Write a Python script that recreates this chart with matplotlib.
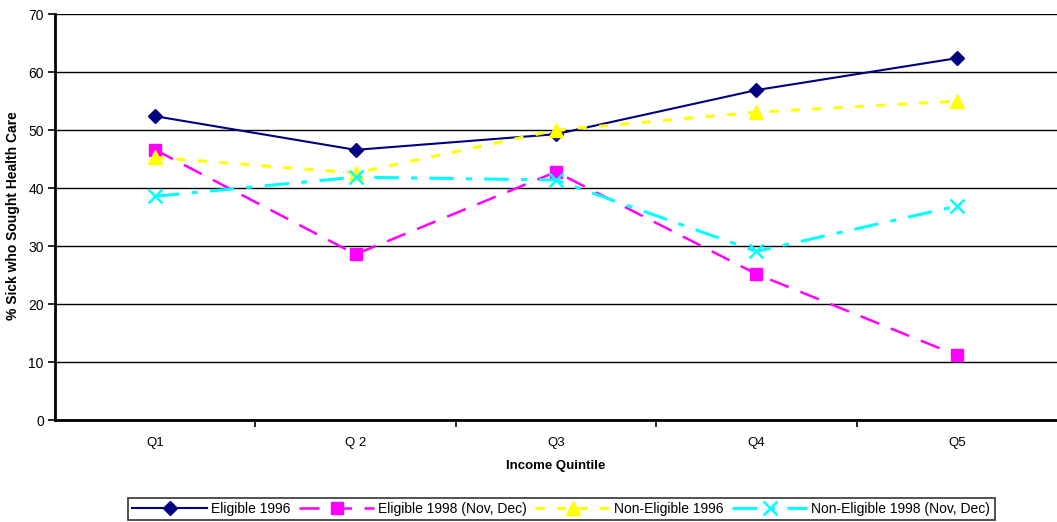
import matplotlib.pyplot as plt
import numpy as np
from matplotlib.transforms import Bbox, TransformedBbox

# 按收入五分位统计的就医比例（%）
quintiles = ["Q1", "Q 2", "Q3", "Q4", "Q5"]
eligible_1996 = [52.4, 46.6, 49.3, 56.9, 62.4]
eligible_1998 = [46.6, 28.6, 42.8, 25.2, 11.2]
non_eligible_1996 = [45.3, 42.6, 50.0, 53.1, 55.0]
non_eligible_1998 = [38.6, 41.9, 41.4, 29.1, 36.9]

y_ticks = [0, 10, 20, 30, 40, 50, 60, 70]

plt.rcParams["font.family"] = ["Liberation Sans", "DejaVu Sans"]

fig = plt.figure(figsize=(10.57, 5.22), dpi=100)
ax = fig.add_axes([0.052, 0.195, 0.948, 0.778])

x = np.arange(len(quintiles))

ax.plot(x, eligible_1996, color="#000080", lw=1.5, marker="D", ms=7,
        label="Eligible 1996", zorder=3)
ax.plot(x, eligible_1998, color="#FF00FF", lw=1.8, dashes=(8, 5), marker="s",
        ms=8, mfc="#FF00FF", mec="#FF00FF", label="Eligible 1998 (Nov, Dec)", zorder=3)
ax.plot(x, non_eligible_1996, color="#FFFF00", lw=2.2, dashes=(3, 4), marker="^",
        ms=10, label="Non-Eligible 1996", zorder=3)
ax.plot(x, non_eligible_1998, color="#00FFFF", lw=2.2, dashes=(8, 4, 2, 4), marker="x",
        ms=10, mew=1.8, label="Non-Eligible 1998 (Nov, Dec)", zorder=3)

ax.set_xlim(-0.5, len(quintiles) - 0.5)
ax.set_ylim(0, 70)
ax.set_yticks(y_ticks)
ax.yaxis.grid(True, color="black", lw=1)
ax.set_axisbelow(True)

ax.set_xticks(x)
ax.set_xticklabels(quintiles)
ax.set_xticks(np.arange(0.5, len(quintiles) - 0.5, 1), minor=True)
ax.tick_params(axis="x", which="major", length=0, pad=12, labelsize=9.5)
ax.tick_params(axis="x", which="minor", length=5, width=1.2, direction="out")
ax.tick_params(axis="y", length=5, width=1.2, labelsize=10, pad=3)

for side in ["top", "right"]:
    ax.spines[side].set_visible(False)
ax.spines["left"].set_linewidth(2)
ax.spines["bottom"].set_linewidth(2)

ax.set_xlabel("Income Quintile", fontsize=9.5, fontweight="bold", labelpad=8)
ylabel = ax.set_ylabel("% Sick who Sought Health Care", fontsize=10,
                       fontweight="bold", labelpad=6)
ylabel.set_y(0.505)
# 纵轴标题过长，上端截断
ylabel.set_clip_box(TransformedBbox(Bbox([[0, 0], [0.2, 1 - 113 / 522]]), fig.transFigure))
ylabel.set_clip_on(True)

legend = fig.legend(loc="center", bbox_to_anchor=(0.531, 0.025), ncol=4,
                    fontsize=10, frameon=True, fancybox=False, handlelength=5.4,
                    handletextpad=0.3, columnspacing=0.6, borderpad=0.3)
legend.get_frame().set_edgecolor("black")
legend.get_frame().set_linewidth(1.2)

fig.savefig("out.png", dpi=100)
